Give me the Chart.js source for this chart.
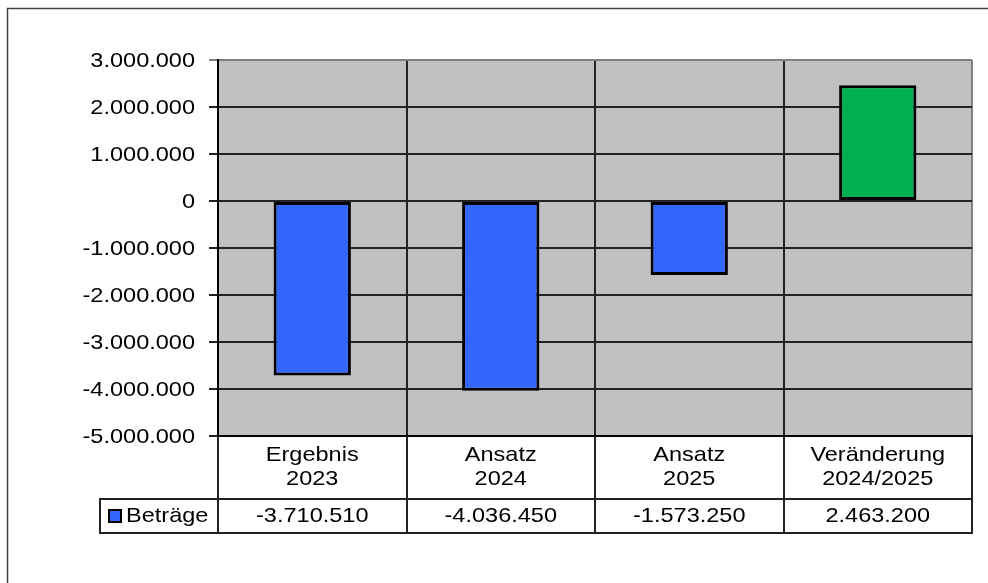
<!DOCTYPE html>
<html>
<head>
<meta charset="utf-8">
<script src="https://cdn.jsdelivr.net/npm/chart.js@4"></script>
<style>
  html, body { margin: 0; padding: 0; background: #fff; overflow: hidden; }
  #wrap { width: 988px; height: 583px; }
</style>
</head>
<body>
<div id="wrap"><canvas id="chart" width="988" height="583"></canvas></div>
<script>
// Chart data
const categories = [['Ergebnis', '2023'], ['Ansatz', '2024'], ['Ansatz', '2025'], ['Veränderung', '2024/2025']];
const seriesName = 'Beträge';
const values = [-3710510, -4036450, -1573250, 2463200];
const barColors = ['#3366FF', '#3366FF', '#3366FF', '#00B050'];
const yTicks = [3000000, 2000000, 1000000, 0, -1000000, -2000000, -3000000, -4000000, -5000000];

// German number format: 1.234.567
function formatNumber(v) {
    const sign = v < 0 ? '-' : '';
    return sign + String(Math.abs(v)).replace(/\B(?=(\d{3})+(?!\d))/g, '.');
}

const FONT = '21px "Liberation Sans", Arial, sans-serif';
const STRETCH = 1.12;

function stretchedText(ctx, text, x, y, align) {
    ctx.save();
    ctx.translate(x, y);
    ctx.scale(STRETCH, 1);
    ctx.textAlign = align;
    ctx.textBaseline = 'middle';
    ctx.fillText(text, 0, 0);
    ctx.restore();
}

// Frame, plot background, y labels and the data table below the plot
const tablePlugin = {
    id: 'dataTable',
    beforeDraw(chart) {
        const ctx = chart.ctx;
        const area = chart.chartArea;
        ctx.save();
        ctx.strokeStyle = '#444';
        ctx.lineWidth = 1.5;
        ctx.beginPath();
        ctx.moveTo(7.5, 590);
        ctx.lineTo(7.5, 8.5);
        ctx.lineTo(990, 8.5);
        ctx.stroke();
        ctx.fillStyle = '#C0C0C0';
        ctx.fillRect(area.left, area.top, area.right - area.left, area.bottom - area.top);
        ctx.restore();
    },
    afterDraw(chart) {
        const ctx = chart.ctx;
        const area = chart.chartArea;
        const xScale = chart.scales.x;
        const yScale = chart.scales.y;
        ctx.save();
        ctx.fillStyle = '#000';
        ctx.font = FONT;

        // y axis labels
        yTicks.forEach(v => {
            stretchedText(ctx, formatNumber(v), 195, yScale.getPixelForValue(v) + 1, 'right');
        });

        // table geometry
        const headTop = area.bottom;
        const rowTop = headTop + 63;
        const rowBottom = rowTop + 34;
        const legendLeft = 100;
        const step = (area.right - area.left) / categories.length;
        const bounds = [];
        for (let i = 0; i <= categories.length; i++) bounds.push(area.left + step * i);

        ctx.strokeStyle = '#222';
        ctx.lineWidth = 2;
        ctx.beginPath();
        bounds.forEach(bx => {
            ctx.moveTo(Math.round(bx), headTop);
            ctx.lineTo(Math.round(bx), rowBottom + 1);
        });
        ctx.moveTo(legendLeft, rowTop);
        ctx.lineTo(legendLeft, rowBottom + 1);
        ctx.moveTo(legendLeft - 1, rowTop);
        ctx.lineTo(area.right + 1, rowTop);
        ctx.moveTo(legendLeft - 1, rowBottom);
        ctx.lineTo(area.right + 1, rowBottom);
        ctx.stroke();

        // category labels and values
        categories.forEach((lines, i) => {
            const cx = xScale.getPixelForValue(i);
            stretchedText(ctx, lines[0], cx, headTop + 19, 'center');
            stretchedText(ctx, lines[1], cx, headTop + 43, 'center');
            stretchedText(ctx, formatNumber(values[i]), cx, rowTop + 17, 'center');
        });

        // legend key
        ctx.fillStyle = '#3366FF';
        ctx.fillRect(109, rowTop + 11, 12, 12);
        ctx.strokeStyle = '#000';
        ctx.lineWidth = 2;
        ctx.strokeRect(109, rowTop + 11, 12, 12);
        ctx.fillStyle = '#000';
        stretchedText(ctx, seriesName, 126, rowTop + 17, 'left');
        ctx.restore();
    }
};

const chartOptions = {
    type: 'bar',
    data: {
        labels: categories.map(c => c.join(' ')),
        datasets: [{
            label: seriesName,
            data: values,
            backgroundColor: barColors,
            borderColor: '#000',
            borderWidth: 3,
            borderSkipped: false,
            barPercentage: 0.41,
            categoryPercentage: 1
        }]
    },
    options: {
        responsive: false,
        animation: false,
        layout: { padding: { left: 0, top: 60, right: 16, bottom: 147 } },
        plugins: {
            legend: { display: false },
            tooltip: { enabled: false }
        },
        scales: {
            x: {
                offset: true,
                ticks: { display: false },
                grid: {
                    offset: true,
                    drawTicks: false,
                    lineWidth: 2,
                    color: c => (c.type === 'tick' ? '#222' : '#808080')
                },
                border: { color: '#000', width: 2 },
                afterFit: s => { s.height = 0; }
            },
            y: {
                min: -5000000,
                max: 3000000,
                ticks: { stepSize: 1000000, display: false },
                grid: {
                    lineWidth: 2,
                    tickLength: 9,
                    color: c => (c.tick && c.tick.value === 3000000 ? '#808080' : '#222')
                },
                border: { color: '#000', width: 2 },
                afterFit: s => { s.width = 218; }
            }
        }
    },
    plugins: [tablePlugin]
};

const chart = new Chart(document.getElementById('chart').getContext('2d'), chartOptions);
</script>
</body>
</html>
